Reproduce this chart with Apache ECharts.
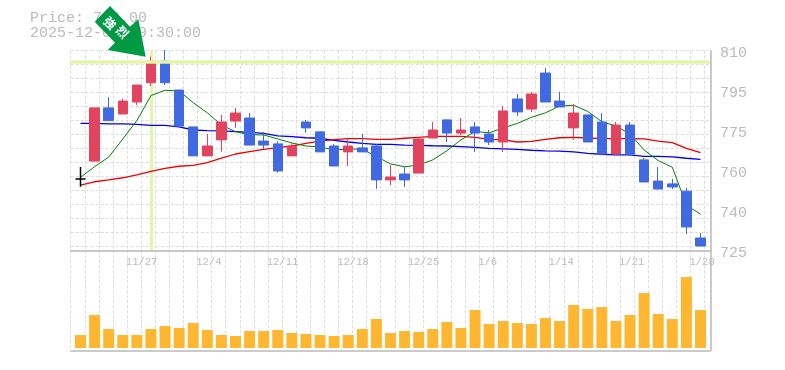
<!DOCTYPE html>
<html><head><meta charset="utf-8">
<style>html,body{margin:0;padding:0;background:#fff}#c{width:785px;height:370px}</style>
<script src="https://cdn.jsdelivr.net/npm/echarts@6/dist/echarts.min.js"></script></head>
<body><div id="c"></div>
<script>
const dates=['11/20','11/21','11/25','11/26','11/27','11/28','12/1','12/2','12/3','12/4','12/5','12/8','12/9','12/10','12/11','12/12','12/15','12/16','12/17','12/18','12/19','12/22','12/23','12/24','12/25','12/26','12/29','12/30','1/5','1/6','1/7','1/8','1/9','1/13','1/14','1/15','1/16','1/19','1/20','1/21','1/22','1/23','1/26','1/27','1/28'];
// open, close, low, high
const ohlc=[
[755.2,755.2,751.9,760.3],[762.8,785.4,762.8,785.4],[785.4,780.0,780.0,790.0],[782.8,788.3,782.8,789.2],[787.9,795.1,786.6,795.1],
[796.1,805.3,794.7,807.2],[805.3,796.1,795.1,810.0],[793.0,777.7,777.3,793.0],[777.3,765.0,765.0,777.3],[765.0,769.2,765.0,774.3],
[771.8,779.4,766.8,782.4],[779.8,783.2,776.9,785.4],[781.1,769.6,769.6,783.2],[771.3,769.6,767.9,775.2],[770.1,758.6,757.9,771.3],
[765.0,769.2,765.0,770.5],[779.4,776.9,774.8,780.3],[775.2,766.7,766.7,775.2],[769.2,760.7,760.7,770.1],[766.7,769.2,760.7,772.2],
[768.4,766.7,766.7,774.3],[769.2,754.8,751.0,770.1],[754.8,756.0,752.6,761.1],[757.3,754.8,751.8,760.3],[757.7,772.2,757.7,773.0],
[772.6,776.0,772.6,779.4],[780.3,774.7,770.9,780.3],[774.7,776.0,773.9,781.1],[777.3,774.7,766.7,779.4],[774.3,770.9,769.6,776.0],
[770.9,784.1,766.7,786.2],[789.2,783.7,782.0,791.3],[784.9,791.3,783.7,792.2],[800.2,787.9,787.9,802.4],[788.3,785.8,785.8,792.2],
[776.9,783.2,771.8,787.1],[782.4,770.9,770.9,782.4],[779.4,765.8,765.4,783.2],[765.8,778.1,765.8,779.4],[778.1,765.8,765.0,779.4],
[763.3,753.9,753.9,764.1],[754.3,750.9,750.9,760.3],[753.1,751.8,750.9,755.2],[750.0,734.8,731.8,751.4],[730.1,726.7,726.7,732.2]];
const maShort=[755.9,760.4,764.5,772.2,780.0,790.6,792.9,792.6,787.6,783.3,778.1,775.3,774.0,773.9,772.2,770.5,769.2,768.8,767.5,767.9,767.9,764.7,761.6,760.4,761.1,763.3,767.2,771.8,775.4,774.8,776.9,778.8,781.4,783.3,786.2,786.5,783.9,779.5,777.7,774.3,767.5,763.0,760.2,744.1,740.2];
const maMid=[752.6,754.0,754.8,755.7,756.9,758.4,759.7,760.6,761.0,762.1,764.0,765.8,766.8,767.8,768.5,769.2,770.3,771.3,771.9,772.3,772.3,772.0,772.0,772.5,772.9,773.3,773.3,773.3,772.9,772.0,771.8,770.9,771.2,772.0,772.7,772.9,772.6,772.3,772.3,772.3,772.2,771.3,770.6,768.2,766.4];
const maLong=[778.8,778.8,778.6,778.6,778.4,778.0,778.0,777.3,776.0,775.7,775.6,775.3,775.0,774.6,773.5,773.2,772.7,772.5,771.6,770.9,770.3,769.9,769.9,769.6,769.5,769.3,769.2,768.9,768.6,768.2,768.0,767.8,767.4,767.1,767.0,766.7,766.1,765.7,765.4,765.4,764.8,764.8,764.6,764.0,763.5];
const volume=[13,33,19,13,13,19,22,20,25,18,13,12,17,17,18,15,14,13,12,13,19,29,15,17,16,19,26,20,38,24,27,25,24,30,27,43,39,41,27,33,55,34,29,71,38];
const yTickValues=[810,793,776,759,742,725];
const yTickLabels=['810','795','775','760','740','725'];
const xTickDates=['11/27','12/4','12/11','12/18','12/25','1/6','1/14','1/21','1/28'];
const highlightPrice=805.1, highlightDate='11/28';
const priceText='Price: 799.00', timeText='2025-12-01 09:30:00';

const MONO='"Liberation Mono",monospace', GREY='#bbbbbb', DASH='#dcdcdc', HI='#e3f5a8';
const chart=echarts.init(document.getElementById('c'),null,{renderer:'canvas'});
const hidden={show:false};
const dashed={show:true,lineStyle:{color:DASH,type:[3,2],width:1}};
const axisLn={show:true,onZero:false,lineStyle:{color:GREY,width:1.5}};
const cl=[73.45,634.1];
const catBase={type:'category',data:dates,boundaryGap:true,axisLine:hidden,axisTick:hidden,axisLabel:hidden,splitLine:hidden};
chart.setOption({
 animation:false,
 grid:[
  {left:cl[0],width:cl[1],top:50,height:200},           // 0 candles
  {left:cl[0],width:cl[1],top:250,height:98},           // 1 volume
  {left:70.7,width:639.8,top:50.7,height:199.6},        // 2 upper gridlines
  {left:70.7,width:639.8,top:250.3,height:100},         // 3 lower gridlines
  {left:70,width:640,top:50,height:200},                // 4 highlight price
  {left:cl[0]-11,width:cl[1],top:50,height:200},        // 5 date labels
  {left:cl[0],width:cl[1],top:53,height:200}            // 6 price labels
 ],
 xAxis:[
  {...catBase,gridIndex:0},
  {...catBase,gridIndex:1},
  {type:'value',gridIndex:2,min:0,max:45.41,interval:1,position:'bottom',axisLine:axisLn,axisTick:hidden,axisLabel:hidden,splitLine:dashed},
  {type:'value',gridIndex:3,min:0,max:45.41,interval:1,position:'bottom',axisLine:axisLn,axisTick:hidden,axisLabel:hidden,splitLine:dashed},
  {type:'value',gridIndex:4,min:0,max:1,show:false},
  {...catBase,gridIndex:5,axisLabel:{show:true,align:'left',margin:7,color:GREY,fontFamily:MONO,fontSize:10.5,
     interval:(i,v)=>xTickDates.includes(v),formatter:v=>v}},
  {...catBase,gridIndex:6}
 ],
 yAxis:[
  {type:'value',gridIndex:0,min:725,max:810,show:false},
  {type:'value',gridIndex:1,min:0,max:98,show:false},
  {type:'value',gridIndex:2,min:0,max:14.257,interval:1,inverse:true,position:'right',axisLine:axisLn,axisTick:hidden,axisLabel:hidden,splitLine:dashed},
  {type:'value',gridIndex:3,min:0,max:1,position:'right',axisLine:axisLn,axisTick:hidden,axisLabel:hidden,splitLine:hidden},
  {type:'value',gridIndex:4,min:725,max:810,show:false},
  {type:'value',gridIndex:5,min:0,max:1,show:false},
  {type:'value',gridIndex:6,min:725,max:810,position:'right',axisLine:hidden,axisTick:hidden,splitLine:hidden,
   axisLabel:{show:true,customValues:yTickValues,margin:12.5,color:GREY,fontFamily:MONO,fontSize:15,
     formatter:v=>yTickLabels[yTickValues.indexOf(v)]}}
 ],
 series:[
  {type:'line',xAxisIndex:4,yAxisIndex:4,data:[],silent:true,z:1,
   markLine:{silent:true,symbol:'none',label:hidden,animation:false,lineStyle:{color:HI,width:3.5,type:'solid'},data:[{yAxis:highlightPrice}]}},
  {type:'line',xAxisIndex:0,yAxisIndex:0,data:maLong,symbol:'none',z:2,lineStyle:{color:'#0000ee',width:1.3}},
  {type:'line',xAxisIndex:0,yAxisIndex:0,data:maMid,symbol:'none',z:2,lineStyle:{color:'#ee0000',width:1.3}},
  {type:'line',xAxisIndex:0,yAxisIndex:0,data:maShort,symbol:'none',z:2,lineStyle:{color:'#008000',width:1}},
  {type:'candlestick',xAxisIndex:0,yAxisIndex:0,barWidth:10,z:3,
   itemStyle:{color:'#e2445f',color0:'#4169e1',borderColor:'#e2445f',borderColor0:'#4169e1',borderWidth:1},
   data:ohlc.map((d,i)=>i===0?{value:d,itemStyle:{color:'#000',color0:'#000',borderColor:'#000',borderColor0:'#000',borderColorDoji:'#000',borderWidth:1.5}}:d),
   markLine:{silent:true,symbol:'none',label:hidden,animation:false,lineStyle:{color:HI,width:3,type:'solid'},data:[{xAxis:highlightDate}],z:1}},
  {type:'bar',xAxisIndex:1,yAxisIndex:1,data:volume,barWidth:11,z:3,itemStyle:{color:'#ffb732'}}
 ],
 graphic:[
  {type:'text',left:30,top:11,z:50,style:{text:priceText,font:'15px '+MONO,fill:GREY}},
  {type:'text',left:30,top:26,z:50,style:{text:timeText,font:'15px '+MONO,fill:GREY}},
  {type:'polygon',z:60,shape:{points:[[145.7,56.7],[107.7,50],[115,42.7],[94.7,21.7],[110,6],[130,26.7],[138.3,19]]},style:{fill:'#009944'}},
  {type:'text',z:61,x:110,y:23,rotation:-Math.PI/4,style:{text:'強',font:'bold 12px "Noto Sans CJK JP"',fill:'#fff',align:'center',verticalAlign:'middle'}},
  {type:'text',z:61,x:122.5,y:32,rotation:-Math.PI/4,style:{text:'烈',font:'bold 12px "Noto Sans CJK JP"',fill:'#fff',align:'center',verticalAlign:'middle'}}
 ]
});
</script></body></html>
